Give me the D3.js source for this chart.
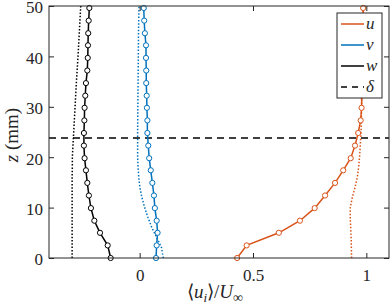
<!DOCTYPE html>
<html>
<head>
<meta charset="utf-8">
<script src="https://cdn.jsdelivr.net/npm/d3@7"></script>
<style>
  body { margin: 0; background: #fff; }
  .axis path { display: none; }
  .axis line { stroke: #262626; }
</style>
</head>
<body>
<script>
// measured profiles (markers), z in mm
var zPts = [0, 2.5, 5.0, 7.4, 9.9, 12.4, 14.9, 17.4, 19.8, 22.3, 24.8, 27.3, 29.8, 32.2, 34.7, 37.2, 39.7, 42.2, 44.6, 47.1, 49.6];
var uPts = [0.430, 0.472, 0.614, 0.707, 0.772, 0.818, 0.862, 0.898, 0.931, 0.950, 0.964, 0.975, 0.979, 0.980, 0.981, 0.982, 0.983, 0.984, 0.985, 0.985, 0.986];
var vPts = [0.072, 0.075, 0.079, 0.075, 0.067, 0.063, 0.056, 0.049, 0.042, 0.038, 0.034, 0.034, 0.032, 0.031, 0.029, 0.029, 0.028, 0.028, 0.023, 0.020, 0.018];
var wPts = [-0.128, -0.141, -0.175, -0.200, -0.215, -0.224, -0.231, -0.237, -0.243, -0.246, -0.246, -0.244, -0.243, -0.240, -0.237, -0.231, -0.229, -0.228, -0.227, -0.225, -0.222];

// reference profiles (dotted)
var zRef = [0, 2, 4, 6, 8, 10, 12, 14, 16, 18, 20, 25, 30, 35, 40, 45, 50];
var uRef = [0.935, 0.934, 0.933, 0.931, 0.929, 0.929, 0.938, 0.950, 0.960, 0.966, 0.970, 0.977, 0.979, 0.980, 0.982, 0.984, 0.986];
var vRef = [0.104, 0.097, 0.076, 0.054, 0.037, 0.022, 0.010, 0.001, -0.004, -0.007, -0.009, -0.009, -0.008, -0.007, -0.006, -0.005, -0.003];
var wRef = [-0.298, -0.298, -0.298, -0.298, -0.298, -0.298, -0.298, -0.298, -0.298, -0.297, -0.297, -0.291, -0.285, -0.279, -0.272, -0.266, -0.260];

var delta = 23.8;

var xTicks = [0, 0.5, 1];
var yTicks = [0, 10, 20, 30, 40, 50];

var series = [
  {name: "u", color: "#D95319", pts: uPts, ref: uRef},
  {name: "v", color: "#0072BD", pts: vPts, ref: vRef},
  {name: "w", color: "#000000", pts: wPts, ref: wRef}
];

var serif = '"Liberation Serif", "Times New Roman", serif';

var width = 390, height = 308,
    margin = {top: 6, right: 1, bottom: 50, left: 49},
    iw = width - margin.left - margin.right,
    ih = height - margin.top - margin.bottom;

var svg = d3.select("body").append("svg")
    .attr("width", width)
    .attr("height", height);

var g = svg.append("g")
    .attr("transform", `translate(${margin.left},${margin.top})`);

var x = d3.scaleLinear().domain([-0.4, 1.1]).range([0, iw]);
var y = d3.scaleLinear().domain([0, 50]).range([ih, 0]);

var plot = g.append("g");

// dotted reference profiles
series.forEach((s) => {
  plot.append("path")
      .datum(s.ref.map((v, i) => [v, zRef[i]]))
      .attr("fill", "none")
      .attr("stroke", s.color)
      .attr("stroke-width", 1.5)
      .attr("stroke-dasharray", "1.5,1.8")
      .attr("d", d3.line().x((d) => x(d[0])).y((d) => y(d[1])));
});

// boundary layer thickness
plot.append("line")
    .attr("x1", 0).attr("x2", iw)
    .attr("y1", y(delta)).attr("y2", y(delta))
    .attr("stroke", "#000")
    .attr("stroke-width", 1.5)
    .attr("stroke-dasharray", "7,5");

// measured profiles with markers
series.forEach((s) => {
  var data = s.pts.map((v, i) => [v, zPts[i]]);
  plot.append("path")
      .datum(data)
      .attr("fill", "none")
      .attr("stroke", s.color)
      .attr("stroke-width", 1.5)
      .attr("d", d3.line().x((d) => x(d[0])).y((d) => y(d[1])));
  plot.selectAll(null)
      .data(data)
    .enter().append("circle")
      .attr("cx", (d) => x(d[0]))
      .attr("cy", (d) => y(d[1]))
      .attr("r", 2.6)
      .attr("fill", "#fff")
      .attr("stroke", s.color)
      .attr("stroke-width", 1);
});

// axes, ticks pointing inward (box on)
var xAxis = g.append("g").attr("class", "axis")
    .attr("transform", `translate(0,${ih})`)
    .call(d3.axisBottom(x).tickValues(xTicks).tickSize(-5).tickPadding(11)
      .tickFormat((d) => d3.format("")(d)));
g.append("g").attr("class", "axis")
    .call(d3.axisTop(x).tickValues(xTicks).tickSize(-5).tickFormat(""));
var yAxis = g.append("g").attr("class", "axis")
    .call(d3.axisLeft(y).tickValues(yTicks).tickSize(-5).tickPadding(6));
g.append("g").attr("class", "axis")
    .attr("transform", `translate(${iw},0)`)
    .call(d3.axisRight(y).tickValues(yTicks).tickSize(-5).tickFormat(""));

[xAxis, yAxis].forEach((a) => a.selectAll("text")
    .style("font-family", serif)
    .style("font-size", "17px")
    .style("fill", "#262626"));
yAxis.selectAll("text").attr("dy", "0.4em");

g.append("rect")
    .attr("width", iw).attr("height", ih)
    .attr("fill", "none")
    .attr("stroke", "#262626")
    .attr("stroke-width", 1);

// axis labels
var xl = svg.append("text")
    .attr("x", margin.left + iw / 2 - 4)
    .attr("y", 298)
    .attr("text-anchor", "middle")
    .style("font-family", serif)
    .style("fill", "#262626")
    .style("font-size", "19px");
xl.append("tspan").text("\u27E8");
xl.append("tspan").style("font-style", "italic").text("u");
xl.append("tspan").style("font-style", "italic").style("font-size", "13px").attr("dy", 4).text("i");
xl.append("tspan").attr("dy", -4).text("\u27E9/");
xl.append("tspan").style("font-style", "italic").text("U");
xl.append("tspan").style("font-size", "14px").attr("dy", 4).text("\u221E");

var yl = svg.append("text")
    .attr("transform", `translate(18,${135}) rotate(-90)`)
    .attr("text-anchor", "middle")
    .style("font-family", serif)
    .style("fill", "#262626")
    .style("font-size", "19px");
yl.append("tspan").style("font-style", "italic").text("z");
yl.append("tspan").text(" (mm)");

// legend
var lg = svg.append("g").attr("transform", "translate(337,13)");
lg.append("rect")
    .attr("width", 45).attr("height", 85)
    .attr("fill", "#fff")
    .attr("stroke", "#262626")
    .attr("stroke-width", 1);

var items = series.map((s) => ({name: s.name, color: s.color, dash: null}))
    .concat([{name: "\u03B4", color: "#000", dash: "6,5"}]);

var row = lg.selectAll(".row")
    .data(items)
  .enter().append("g")
    .attr("transform", (d, i) => `translate(0,${11 + i * 21})`);

row.append("line")
    .attr("x1", 4).attr("x2", 27)
    .attr("stroke", (d) => d.color)
    .attr("stroke-width", 1.5)
    .attr("stroke-dasharray", (d) => d.dash);

row.append("text")
    .attr("x", 29)
    .attr("dy", "0.3em")
    .style("font-family", serif)
    .style("fill", "#262626")
    .style("font-size", "17px")
    .style("font-style", "italic")
    .text((d) => d.name);
</script>
</body>
</html>
